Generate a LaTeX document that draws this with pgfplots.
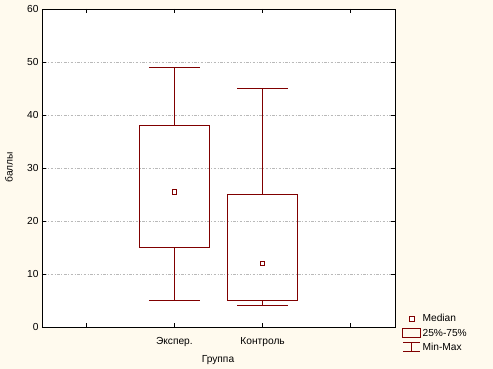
\documentclass[border=0pt]{standalone}
\usepackage{fontspec}
\setmainfont{Liberation Sans}
\usepackage{pgfplots}
\pgfplotsset{compat=1.18}
\definecolor{bgcol}{RGB}{255,250,238}
\definecolor{boxred}{RGB}{128,0,0}
\definecolor{gridgray}{RGB}{185,185,185}
\newcommand{\cf}{\fontsize{10.2}{12}\selectfont}
\begin{document}
\begin{tikzpicture}
\fill[bgcol] (0,0) rectangle (493pt,369pt);
\begin{axis}[
  at={(42pt,42pt)}, anchor=south west,
  scale only axis, width=353pt, height=318pt,
  axis background/.style={fill=white},
  axis line style={black, line width=0.9pt},
  xmin=0.5, xmax=4.5, ymin=0, ymax=60,
  xtick={1,2,3,4}, xticklabels={,Экспер.,Контроль,},
  ytick={0,10,20,30,40,50,60},
  tick align=inside, major tick length=4pt,
  tick style={black, line width=0.8pt},
  xtick pos=both, ytick pos=both,
  ymajorgrids,
  major grid style={gridgray, line width=0.6pt, dash pattern=on 1pt off 1.5pt on 2.5pt off 1.5pt},
  /pgf/number format/assume math mode=true,
  tick label style={font=\cf, black},
  xticklabel style={yshift=-7pt},
  xlabel={Группа}, ylabel={баллы},
  label style={font=\cf},
  xlabel style={at={(axis description cs:0.4986,-0.104)}, anchor=center},
  ylabel style={at={(axis description cs:-0.094,0.503)}, anchor=center},
  clip=false,
  legend style={draw=none, fill=none, font=\cf, inner sep=0pt, outer sep=0pt,
    row sep=2.5pt, at={(axis description cs:1.0198,0.044)}, anchor=north west,
    nodes={inner sep=1.5pt}},
  legend cell align=left,
  every axis plot/.append style={boxred, line width=1.1pt},
]
% Экспер.: min 5, Q1 15, median 25.5, Q3 38, max 49
\addplot[forget plot] coordinates {(1.6,15) (2.4,15) (2.4,38) (1.6,38) (1.6,15)};
\addplot[forget plot] coordinates {(2,38) (2,49)};
\addplot[forget plot] coordinates {(1.71,49) (2.29,49)};
\addplot[forget plot] coordinates {(2,15) (2,5)};
\addplot[forget plot] coordinates {(1.71,5) (2.29,5)};
% Контроль: min 4, Q1 5, median 12, Q3 25, max 45
\addplot[forget plot] coordinates {(2.6,5) (3.4,5) (3.4,25) (2.6,25) (2.6,5)};
\addplot[forget plot] coordinates {(3,25) (3,45)};
\addplot[forget plot] coordinates {(2.71,45) (3.29,45)};
\addplot[forget plot] coordinates {(3,5) (3,4)};
\addplot[forget plot] coordinates {(2.71,4) (3.29,4)};
% medians
\addplot[forget plot, only marks, mark=square*, mark size=2.3pt,
  mark options={draw=boxred, fill=white, line width=1pt}] coordinates {(2,25.5) (3,12)};
\addlegendimage{legend image code/.code={
  \path (0pt,0pt) (18pt,0pt);
  \draw[boxred, line width=1pt, fill=white] (6.5pt,-2.5pt) rectangle (11.5pt,2.5pt);}}
\addlegendentry{Median}
\addlegendimage{legend image code/.code={
  \draw[boxred, line width=1pt] (0pt,-4.5pt) rectangle (18pt,4.5pt);}}
\addlegendentry{25\%-75\%}
\addlegendimage{legend image code/.code={
  \path (0pt,0pt) (18pt,0pt);
  \draw[boxred, line width=1pt] (0.5pt,5pt) -- (17.5pt,5pt) (9pt,5pt) -- (9pt,-4pt) (0.5pt,-4pt) -- (17.5pt,-4pt);}}
\addlegendentry{Min-Max}
\end{axis}
\pgfresetboundingbox
\useasboundingbox (0,0) rectangle (493pt,369pt);
\end{tikzpicture}
\end{document}
